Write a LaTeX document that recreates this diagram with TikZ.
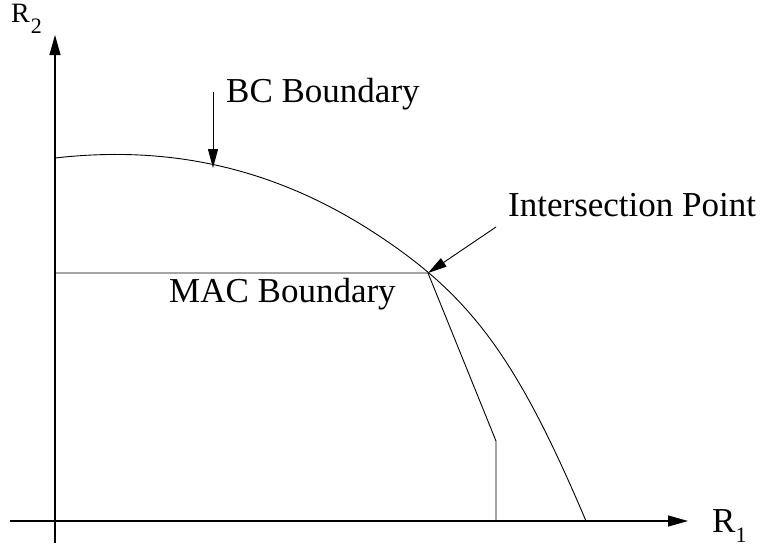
\documentclass[tikz,border=0pt]{standalone}
\usepackage{fontspec}
\setmainfont{Liberation Serif}
\usetikzlibrary{arrows.meta}
\tikzset{
  lbl/.style={anchor=base west, inner sep=0pt, font=\fontsize{35}{42}\selectfont},
  axis/.style={line width=1.1pt, -{Triangle[length=20pt,width=11pt]}},
  pointer/.style={line width=0.9pt, -{Triangle[length=19pt,width=10pt]}},
  bnd/.style={line width=0.9pt}
}
\newcommand{\subsc}[1]{\raisebox{-10pt}{\fontsize{22}{22}\selectfont #1}}
\begin{document}
\begin{tikzpicture}[x=1pt,y=-1pt]
\useasboundingbox (0,0) rectangle (765,546);
% axes
\coordinate (xs) at (10,521);
\coordinate (xe) at (688,521);
\coordinate (ys) at (55,543);
\coordinate (ye) at (55,35);
\draw[axis] (xs) -- (xe);
\draw[axis] (ys) -- (ye);
\node[lbl] (r1) at (712,532) {R\subsc{1}};
\node[lbl, font=\fontsize{28}{32}\selectfont] (r2) at (11,23) {R\hspace{1pt}\subsc{2}};
% BC boundary curve
\coordinate (c0) at (55,158);
\coordinate (cm) at (370,230);
\coordinate (ce) at (586,521);
\draw[bnd] (c0) .. controls (160,146) and (265,163) .. (cm)
           .. controls (470,294) and (516,356) .. (ce);
% MAC boundary
\coordinate (ml) at (55,273);
\coordinate (ip) at (428,273);
\coordinate (kink) at (496,441);
\coordinate (mb) at (496,521);
\draw[bnd] (ml) -- (ip) -- (kink) -- (mb);
% labels
\node[lbl] (bc) at (226,102) {BC Boundary};
\node[lbl] (mac) at (169,302) {MAC Boundary};
\node[lbl] (int) at (508,216) {Intersection Point};
% pointers
\coordinate (bcs) at (213,92);
\coordinate (bce) at (213,168);
\coordinate (ints) at (496,227);
\draw[pointer] (bcs) -- (bce);
\draw[pointer] (ints) -- (ip);
\end{tikzpicture}
\end{document}
